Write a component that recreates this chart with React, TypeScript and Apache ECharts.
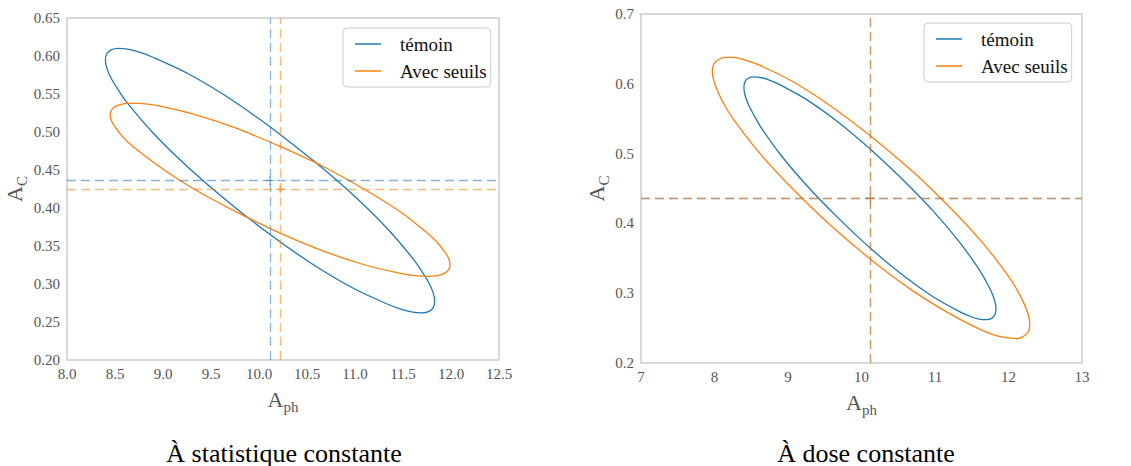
import React, { useEffect, useRef } from "react";
import * as echarts from "echarts";

// ---- Data ----
// Confidence ellipse "témoin" (same in both panels): [A_ph, A_C]
const temoinEllipse: number[][] = [
  [10.115, 0.507], [9.671, 0.546], [9.258, 0.577], [8.902, 0.598], [8.754, 0.605],
  [8.63, 0.609], [8.531, 0.61], [8.459, 0.608], [8.415, 0.603], [8.4, 0.595],
  [8.415, 0.584], [8.459, 0.571], [8.531, 0.556], [8.63, 0.538], [8.902, 0.498],
  [9.258, 0.454], [9.671, 0.409], [10.115, 0.365], [10.559, 0.326], [10.973, 0.295],
  [11.328, 0.274], [11.476, 0.267], [11.6, 0.263], [11.699, 0.262], [11.772, 0.264],
  [11.815, 0.269], [11.83, 0.277], [11.815, 0.288], [11.772, 0.301], [11.699, 0.316],
  [11.6, 0.334], [11.328, 0.374], [10.973, 0.418], [10.559, 0.463], [10.115, 0.507],
];
// "Avec seuils" – à statistique constante
const seuilsStatEllipse: number[][] = [
  [10.22, 0.481], [9.762, 0.505], [9.335, 0.523], [8.968, 0.534], [8.816, 0.537],
  [8.687, 0.538], [8.585, 0.537], [8.51, 0.534], [8.465, 0.529], [8.45, 0.523],
  [8.465, 0.514], [8.51, 0.505], [8.585, 0.493], [8.687, 0.481], [8.968, 0.454],
  [9.335, 0.424], [9.762, 0.395], [10.22, 0.367], [10.678, 0.343], [11.105, 0.325],
  [11.472, 0.314], [11.624, 0.311], [11.753, 0.31], [11.855, 0.311], [11.93, 0.314],
  [11.975, 0.319], [11.99, 0.325], [11.975, 0.334], [11.93, 0.343], [11.855, 0.355],
  [11.753, 0.367], [11.472, 0.395], [11.105, 0.424], [10.678, 0.454], [10.22, 0.481],
];
// "Avec seuils" – à dose constante
const seuilsDoseEllipse: number[][] = [
  [10.13, 0.525], [9.571, 0.569], [9.05, 0.604], [8.603, 0.627], [8.416, 0.634],
  [8.259, 0.638], [8.134, 0.638], [8.044, 0.634], [7.989, 0.628], [7.97, 0.618],
  [7.989, 0.605], [8.044, 0.589], [8.134, 0.57], [8.259, 0.549], [8.603, 0.502],
  [9.05, 0.451], [9.571, 0.398], [10.13, 0.348], [10.689, 0.304], [11.21, 0.27],
  [11.657, 0.246], [11.844, 0.239], [12.001, 0.236], [12.126, 0.235], [12.216, 0.239],
  [12.272, 0.245], [12.29, 0.255], [12.272, 0.268], [12.216, 0.284], [12.126, 0.303],
  [12.001, 0.324], [11.657, 0.371], [11.21, 0.422], [10.689, 0.475], [10.13, 0.525],
];
// Centres (estimates)
const temoinCentreStat = [10.115, 0.436];
const seuilsCentreStat = [10.22, 0.4248];
const temoinCentreDose = [10.12, 0.436];
const seuilsCentreDose = [10.12, 0.436];

const seriesNames = ["témoin", "Avec seuils"];
const panelTitles = ["À statistique constante", "À dose constante"];

// Axis ranges / ticks
const statX = { min: 8, max: 12.5, interval: 0.5, digits: 1 };
const statY = { min: 0.2, max: 0.65, interval: 0.05, digits: 2 };
const doseX = { min: 7, max: 13, interval: 1, digits: 0 };
const doseY = { min: 0.2, max: 0.7, interval: 0.1, digits: 1 };

const BLUE = "#1f77b4";
const ORANGE = "#ff7f0e";
const FONT = "'Liberation Serif', 'DejaVu Serif', serif";
const TICK_COLOR = "#555555";

export default function App() {
  const ref = useRef<HTMLDivElement>(null);

  useEffect(() => {
    if (!ref.current) return;
    const chart = echarts.init(ref.current, undefined, { renderer: "svg" });

    const axisName = (main: string, sub: string) => `{a|${main}}{b|${sub}}`;
    const nameRich = {
      a: { fontSize: 22, fontFamily: FONT, color: TICK_COLOR, lineHeight: 30, verticalAlign: "middle" },
      b: { fontSize: 15, fontFamily: FONT, color: TICK_COLOR, lineHeight: 14, verticalAlign: "bottom" },
    };

    const mkX = (r: any, gridIndex: number, gap: number) => ({
      type: "value",
      gridIndex,
      min: r.min,
      max: r.max,
      interval: r.interval,
      axisLine: { show: false },
      axisTick: { show: false },
      splitLine: { show: false },
      axisLabel: {
        color: TICK_COLOR,
        fontFamily: FONT,
        fontSize: 15,
        margin: 6,
        formatter: (v: number) => v.toFixed(r.digits),
      },
      name: axisName("A", "ph"),
      nameLocation: "middle",
      nameGap: gap,
      nameTextStyle: { rich: nameRich },
    });
    const mkY = (r: any, gridIndex: number, gap: number) => ({
      type: "value",
      gridIndex,
      min: r.min,
      max: r.max,
      interval: r.interval,
      axisLine: { show: false },
      axisTick: { show: false },
      splitLine: { show: false },
      axisLabel: {
        color: TICK_COLOR,
        fontFamily: FONT,
        fontSize: 15,
        margin: 7,
        formatter: (v: number) => v.toFixed(r.digits),
      },
      name: axisName("A", "C"),
      nameLocation: "middle",
      nameGap: gap,
      nameRotate: 90,
      nameTextStyle: { rich: nameRich },
    });

    const ellipse = (name: string, color: string, data: number[][], idx: number, centre: number[]) => ({
      type: "line",
      name,
      xAxisIndex: idx,
      yAxisIndex: idx,
      data,
      color,
      smooth: 0.3,
      symbol: "none",
      lineStyle: { color, width: 1.3 },
      z: 3,
      markLine: {
        silent: true,
        precision: 5,
        symbol: ["none", "none"],
        label: { show: false },
        lineStyle: { color, type: [9, 5], width: 1.3, opacity: 0.55 },
        data: [{ xAxis: centre[0] }, { yAxis: centre[1] }],
      },
    });
    const centreMark = (name: string, color: string, centre: number[], idx: number) => ({
      type: "scatter",
      name,
      xAxisIndex: idx,
      yAxisIndex: idx,
      data: [centre],
      symbol: "path://M-0.1,-1H0.1V-0.1H1V0.1H0.1V1H-0.1V0.1H-1V-0.1H-0.1Z",
      symbolSize: 9,
      itemStyle: { color },
      z: 4,
    });

    const legendBase = {
      orient: "vertical",
      data: seriesNames,
      icon: "rect",
      itemWidth: 26,
      itemHeight: 1.5,
      itemGap: 5,
      padding: [5, 4, 5, 12],
      backgroundColor: "#ffffff",
      borderColor: "#cccccc",
      borderWidth: 1,
      borderRadius: 4,
      textStyle: { fontFamily: FONT, fontSize: 19, color: "#111111", lineHeight: 22, padding: [0, 0, 0, 14] },
    };

    const option: any = {
      animation: false,
      backgroundColor: "#ffffff",
      textStyle: { fontFamily: FONT },
      title: [
        {
          text: panelTitles[0],
          left: 279,
          top: 435,
          textAlign: "center",
          textStyle: { fontFamily: FONT, fontSize: 26, fontWeight: "normal", color: "#000000" },
        },
        {
          text: panelTitles[1],
          left: 861,
          top: 435,
          textAlign: "center",
          textStyle: { fontFamily: FONT, fontSize: 26, fontWeight: "normal", color: "#000000" },
        },
      ],
      legend: [
        { ...legendBase, left: 343, top: 28 },
        { ...legendBase, left: 924, top: 23 },
      ],
      grid: [
        { left: 67, top: 18, width: 432, height: 342, show: true, borderColor: "#cccccc", borderWidth: 1.5, backgroundColor: "transparent" },
        { left: 641, top: 14, width: 441, height: 349, show: true, borderColor: "#cccccc", borderWidth: 1.5, backgroundColor: "transparent" },
      ],
      xAxis: [mkX(statX, 0, 24), mkX(doseX, 1, 24)],
      yAxis: [mkY(statY, 0, 38), mkY(doseY, 1, 28)],
      series: [
        ellipse(seriesNames[0], BLUE, temoinEllipse, 0, temoinCentreStat),
        ellipse(seriesNames[1], ORANGE, seuilsStatEllipse, 0, seuilsCentreStat),
        ellipse(seriesNames[0], BLUE, temoinEllipse, 1, temoinCentreDose),
        ellipse(seriesNames[1], ORANGE, seuilsDoseEllipse, 1, seuilsCentreDose),
        centreMark("centre témoin (stat)", BLUE, temoinCentreStat, 0),
        centreMark("centre seuils (stat)", ORANGE, seuilsCentreStat, 0),
        centreMark("centre témoin (dose)", BLUE, temoinCentreDose, 1),
        centreMark("centre seuils (dose)", ORANGE, seuilsCentreDose, 1),
      ],
    };

    chart.setOption(option);
    return () => chart.dispose();
  }, []);

  return (
    <div
      ref={ref}
      style={{ position: "absolute", left: 0, top: 0, width: 1131, height: 466 }}
    />
  );
}
